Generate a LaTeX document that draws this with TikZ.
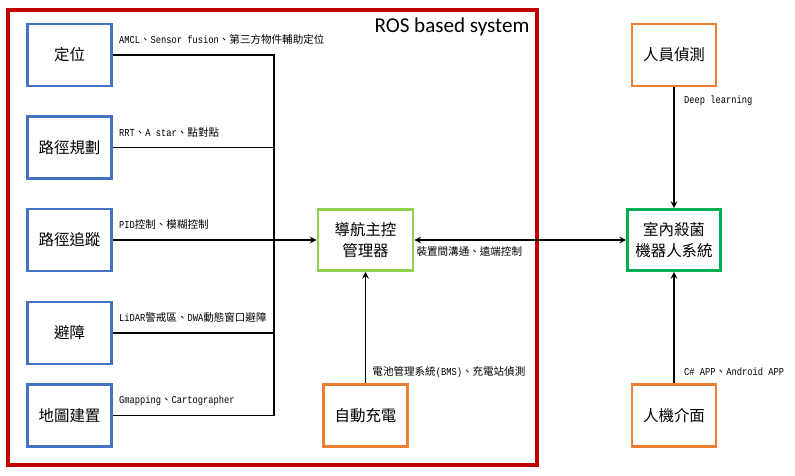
\documentclass[tikz,border=0pt]{standalone}
\usepackage{fontspec}
\usepackage{tikz}
\usetikzlibrary{positioning}
\setmainfont{Noto Sans CJK TC}
\newfontfamily\lat[FakeStretch=0.83]{Liberation Mono}
\newfontfamily\ttl{Carlito}
\definecolor{boxblue}{HTML}{4472C4}
\definecolor{frred}{HTML}{C00000}
\definecolor{lgreen}{HTML}{92D050}
\definecolor{dgreen}{HTML}{00B050}
\definecolor{boxorange}{HTML}{ED7D31}

\begin{document}
\begin{tikzpicture}[x=0.025cm,y=-0.025cm,>=stealth,
  blk/.style={draw,line width=2pt,minimum width=2.1cm,minimum height=1.55cm,font=\fontsize{11}{15}\selectfont,align=center,fill=white},
  modbox/.style={blk,draw=boxblue},
  ctrlbox/.style={blk,draw=lgreen,minimum width=2.375cm,minimum height=1.525cm},
  sysbox/.style={blk,draw=dgreen,minimum width=2.325cm,minimum height=1.525cm},
  extbox/.style={blk,draw=boxorange},
  wire/.style={line width=1.1pt},
  lbl/.style={font=\fontsize{7.5}{9}\selectfont,inner sep=1pt}]
\useasboundingbox (0,0) rectangle (795,475);
\draw[frred,line width=2.2pt] (8,10) rectangle (537,465);
\node[font=\ttl\fontsize{15}{18}\selectfont] (title) at (452,27) {ROS based system};
\node[modbox] (loc) at (69.5,55) {定位};
\node[modbox] (plan) at (69.5,147.5) {路徑規劃};
\node[modbox] (track) at (69.5,240) {路徑追蹤};
\node[modbox] (avoid) at (69.5,333) {避障};
\node[modbox] (map) at (69.5,415.5) {地圖建置};
\node[ctrlbox] (nav) at (365.5,240) {導航主控\\管理器};
\node[sysbox] (robot) at (674,240) {室內殺菌\\機器人系統};
\node[extbox] (detect) at (674,55) {人員偵測};
\node[extbox] (hmi) at (674,415.5) {人機介面};
\node[extbox] (charge) at (365.5,415.5) {自動充電};
\coordinate (bus) at (274,240);
\draw[wire] (loc.east) -| (bus) node[lbl,pos=0,anchor=south west,xshift=0.1cm,yshift=0.2cm] {{\lat AMCL}、{\lat Sensor fusion}、第三方物件輔助定位};
\draw[wire] (plan.east) -| (bus) node[lbl,pos=0,anchor=south west,xshift=0.1cm,yshift=0.2cm] {{\lat RRT}、{\lat A star}、點對點};
\draw[wire] (track.east) -- (bus) node[lbl,pos=0,anchor=south west,xshift=0.1cm,yshift=0.2cm] {{\lat PID}控制、模糊控制};
\draw[wire] (avoid.east) -| (bus) node[lbl,pos=0,anchor=south west,xshift=0.1cm,yshift=0.2cm] {{\lat LiDAR}警戒區、{\lat DWA}動態窗口避障};
\draw[wire] (map.east) -| (bus) node[lbl,pos=0,anchor=south west,xshift=0.1cm,yshift=0.2cm] {{\lat Gmapping}、{\lat Cartographer}};
\draw[wire,->] (bus) -- (nav);
\draw[wire,<->] (nav) -- (robot) node[lbl,pos=0,anchor=north west,yshift=-0.1cm] {裝置間溝通、遠端控制};
\draw[wire,->] (charge) -- (nav) node[lbl,pos=0.1,anchor=west,xshift=0.12cm] {電池管理系統{\lat (BMS)}、充電站偵測};
\draw[wire,->] (detect) -- (robot) node[lbl,pos=0.11,anchor=west,xshift=0.2cm] {{\lat Deep learning}};
\draw[wire,->] (hmi) -- (robot) node[lbl,pos=0.1,anchor=west,xshift=0.2cm] {{\lat C\# APP}、{\lat Android APP}};
\end{tikzpicture}
\end{document}
